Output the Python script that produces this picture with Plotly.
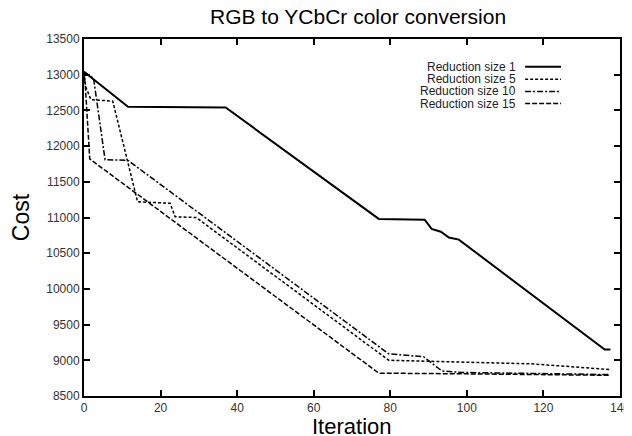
import plotly.graph_objects as go

# ---- data ----
series_names = ["Reduction size 1", "Reduction size 5", "Reduction size 10", "Reduction size 15"]

iter_1 = [0, 11.5, 37, 77, 89, 90.8, 93.2, 95.3, 97.9, 136, 137.5]
cost_1 = [13040, 12550, 12540, 10980, 10970, 10840, 10800, 10720, 10690, 9150, 9150]

iter_5 = [0, 0.4, 1.8, 7.5, 14, 22.5, 23.8, 29.3, 79.6, 88, 117, 137.5]
cost_5 = [13040, 12840, 12650, 12630, 11220, 11200, 11010, 11000, 9000, 8990, 8950, 8870]

iter_10 = [0, 2.5, 5.5, 11.5, 79.6, 88.7, 93.5, 98.7, 137.5]
cost_10 = [13040, 12950, 11810, 11800, 9090, 9050, 8850, 8830, 8800]

iter_15 = [0, 0.4, 1.5, 77, 100, 137.5]
cost_15 = [13040, 12800, 11820, 8820, 8810, 8790]

x_ticks = [0, 20, 40, 60, 80, 100, 120, 140]
y_ticks = [8500, 9000, 9500, 10000, 10500, 11000, 11500, 12000, 12500, 13000, 13500]

FONT = "Liberation Sans, Arial, sans-serif"

# ---- styling ----
styles = [
    dict(width=2.0, dash="solid"),
    dict(width=1.5, dash="3px,2px"),
    dict(width=1.5, dash="6px,2px,2px,2px"),
    dict(width=1.5, dash="5px,2px"),
]
xs = [iter_1, iter_5, iter_10, iter_15]
ys = [cost_1, cost_5, cost_10, cost_15]

fig = go.Figure()
for name, x, y, st in zip(series_names, xs, ys, styles):
    fig.add_trace(go.Scatter(x=x, y=y, mode="lines", name=name,
                             line=dict(color="black", width=st["width"], dash=st["dash"]),
                             showlegend=False))

# gnuplot-style legend: right-aligned text, key sample on the right
leg_y = [0.922, 0.887, 0.853, 0.819]
for name, st, yy in zip(series_names, styles, leg_y):
    fig.add_annotation(x=0.81, y=yy, xref="paper", yref="paper", text=name,
                       showarrow=False, xanchor="right", yanchor="middle",
                       font=dict(family=FONT, size=12, color="#222"))
    fig.add_shape(type="line", xref="paper", yref="paper", x0=0.823, x1=0.89, y0=yy, y1=yy,
                  line=dict(color="black", width=st["width"], dash=st["dash"]))

# x axis title placed below the tick labels
fig.add_annotation(x=0.5, y=-0.044, xref="paper", yref="paper", text="Iteration",
                   showarrow=False, xanchor="center", yanchor="top",
                   font=dict(family=FONT, size=22, color="black"))

axis_common = dict(
    showline=True, linecolor="black", linewidth=2, mirror="ticks",
    ticks="inside", ticklen=6, tickwidth=2, tickcolor="black",
    showgrid=False, zeroline=False, automargin=False,
    tickfont=dict(family=FONT, size=12, color="#333"),
)

fig.update_xaxes(range=[0, 140], tickvals=x_ticks, ticktext=[str(v) for v in x_ticks],
                 **axis_common)
fig.update_yaxes(range=[8500, 13500], tickvals=y_ticks, ticktext=[str(v) for v in y_ticks],
                 title=dict(text="Cost", font=dict(family=FONT, size=23, color="black"),
                            standoff=12),
                 **axis_common)

# page body has an 8px margin, so the figure is sized/offset to land on the reference pixels
fig.update_layout(
    width=624, height=428,
    margin=dict(l=76, r=12, t=31, b=40),
    paper_bgcolor="white", plot_bgcolor="white",
    title=dict(text="RGB to YCbCr color conversion", x=0.561, xanchor="center",
               y=1 - 9 / 428, yanchor="middle",
               font=dict(family=FONT, size=21, color="black")),
)

fig.write_html("out.html")
